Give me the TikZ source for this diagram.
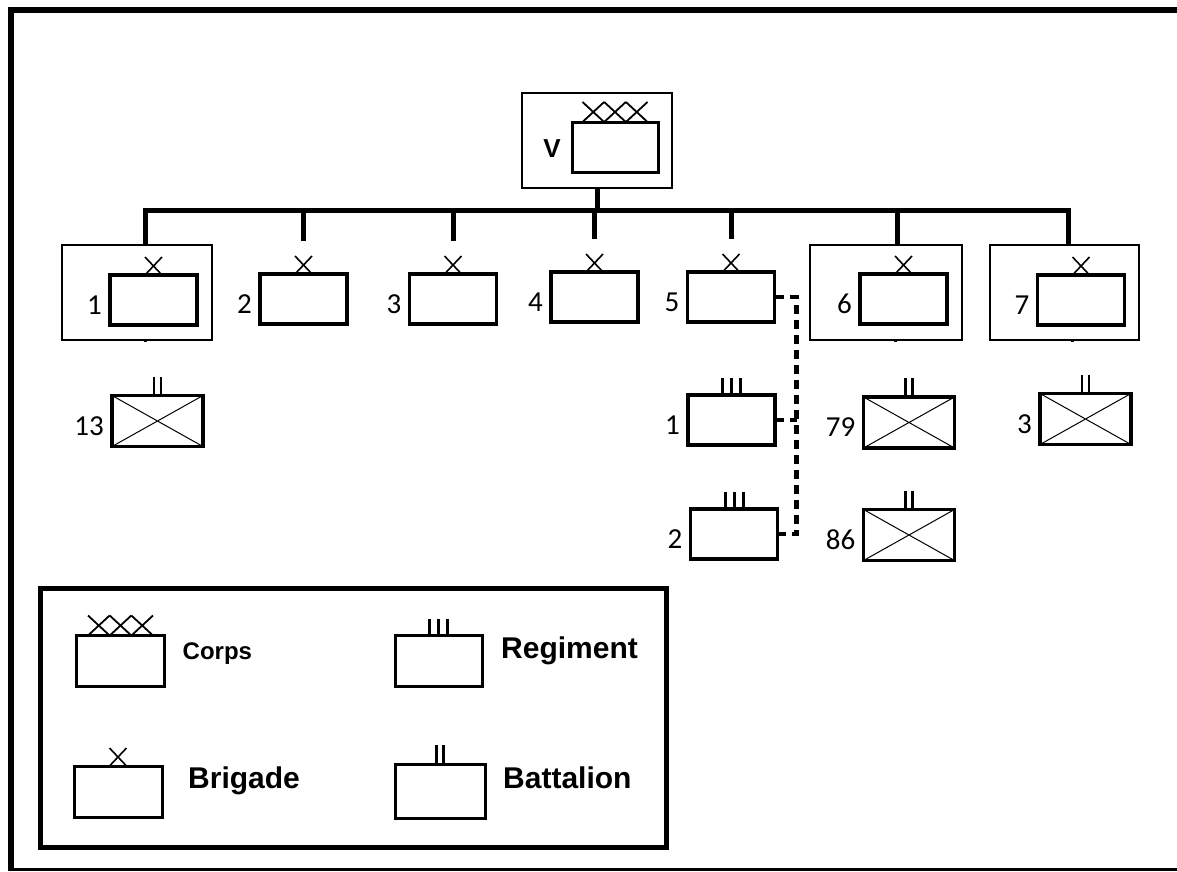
\documentclass[tikz,border=0pt]{standalone}
\usepackage{fontspec}
\setmainfont{Carlito}
\newfontfamily\keyfont{Liberation Sans}
\usetikzlibrary{positioning,calc}

\begin{document}
\begin{tikzpicture}[x=1pt,y=-1pt,
  unit/.style={draw,line width=3.5pt,minimum width=87pt,minimum height=50pt,inner sep=0pt,outer sep=0pt},
  hq/.style={draw,line width=2pt,minimum width=150pt,minimum height=95pt,inner sep=0pt,outer sep=0pt},
  btn/.style={unit,minimum width=91pt,minimum height=51pt},
  key/.style={draw,line width=3pt,minimum width=88pt,minimum height=51pt,inner sep=0pt,outer sep=0pt},
  num/.style={font=\fontsize{29}{31}\selectfont,inner sep=0pt,label distance=8pt,yshift=-5pt},
  keytext/.style={font=\keyfont\bfseries\fontsize{30}{32}\selectfont,inner sep=0pt},
  bus/.style={line width=5pt},
  attach/.style={line width=4.5pt,dash pattern=on 9pt off 6pt},
  brigmark/.pic={\draw[line width=1.6pt] (-8.5,0) -- (8.5,-18) (-8.5,-18) -- (8.5,0);},
  corpsmark/.pic={\foreach \i in {-21.7,0,21.7}
      \draw[line width=1.8pt] (\i-10.8,0) -- (\i+10.8,-20) (\i-10.8,-20) -- (\i+10.8,0);},
  regtmark/.pic={\foreach \i in {-9,0,9} \draw[line width=3pt] (\i,0) -- (\i,-17);},
  btnmark/.pic={\foreach \i in {-3.5,3.5} \draw[line width=2.5pt] (\i,0) -- (\i,-19);}]
\useasboundingbox (0,0) rectangle (1177,871);
% frame
\draw[line width=6pt] (1177,10) -- (10.5,10) -- (10.5,871);
\draw[line width=2.5pt] (10.5,869.5) -- (1177,869.5);

% corps
\node[hq] (corpso) at (597,140.5) {};
\node[unit,line width=3pt,minimum width=86pt,
  label={[num,font=\keyfont\bfseries\fontsize{26}{28}\selectfont,label distance=11pt,yshift=3pt]left:V}] (corps) at (615,147) {};
\pic at (corps.north) {corpsmark};

% brigades
\node[hq] (b1o) at (137,292.5) {};
\node[unit,label={[num]left:1}] (b1) at (153.5,300) {};
\node[unit,label={[num]left:2}] (b2) at (303.5,299) {};
\node[unit,label={[num]left:3}] (b3) at (453,299) {};
\node[unit,label={[num]left:4}] (b4) at (594.5,297) {};
\node[unit,label={[num]left:5}] (b5) at (731,297) {};
\node[hq,minimum width=152pt] (b6o) at (886,292.5) {};
\node[unit,label={[num]left:6}] (b6) at (903.5,299) {};
\node[hq,minimum width=149pt] (b7o) at (1064.5,292.5) {};
\node[unit,label={[num]left:7}] (b7) at (1081,300) {};
\foreach \u in {b1,b2,b3,b4,b5,b6,b7} \pic at (\u.north) {brigmark};

% regiments
\node[unit,label={[num]left:1}] (r1) at (731.5,420) {};
\node[unit,label={[num]left:2}] (r2) at (734,534) {};
\foreach \u in {r1,r2} \pic at (\u.north) {regtmark};

% battalions
\node[btn,label={[num]left:13}] (n13) at (157.5,421) {};
\node[btn,label={[num]left:79}] (n79) at (909,422.5) {};
\node[btn,label={[num]left:3}] (n3) at (1085.5,419) {};
\node[btn,label={[num]left:86}] (n86) at (909,535) {};
\foreach \u in {n13,n79,n3,n86} {
  \draw[line width=1pt] (\u.north west) -- (\u.south east) (\u.south west) -- (\u.north east);
  \pic at (\u.north) {btnmark};
}

% command lines
\coordinate (bus) at (597,210);
\draw[bus] (corpso.south) -- (bus);
\draw[bus] ([xshift=8]b1o.north) |- (bus) -| ([xshift=3.5]b7o.north);
\foreach \u in {b2,b3,b4,b5} \draw[bus,shorten >=33pt] (\u.north |- bus) -- (\u.north);
\draw[bus] ([xshift=11]b6o.north) -- ++(0,-35);
\foreach \u/\s in {b1o/8,b6o/9,b7o/7.5} \draw[line width=3pt] ([xshift=\s]\u.south) -- ++(0,2);
\draw[attach] (b5.east) -- ++(22,0) |- (r2.east);
\draw[attach] (r1.east) -- ++(22,0);

% legend
\node[draw,line width=5pt,minimum width=626pt,minimum height=259pt,outer sep=0pt] (legend) at (353,717.5) {};
\node[key] (lc) at (120.5,661) {};
\node[key,minimum width=87pt] (lr) at (438.5,661) {};
\node[key] (lb) at (118,791.5) {};
\node[key,minimum width=90pt,minimum height=54pt] (ln) at (440,791) {};
\pic at (lc.north) {corpsmark};
\pic at (lr.north) {regtmark};
\pic at (lb.north) {brigmark};
\pic at (ln.north) {btnmark};
\node[keytext,font=\keyfont\bfseries\fontsize{24}{26}\selectfont,right=18pt of lc,yshift=7pt] (tc) {Corps};
\node[keytext,right=19pt of lr,yshift=10pt] (tr) {Regiment};
\node[keytext,right=26pt of lb,yshift=11pt] (tb) {Brigade};
\node[keytext,right=18pt of ln,yshift=13pt] (tn) {Battalion};
\end{tikzpicture}
\end{document}
